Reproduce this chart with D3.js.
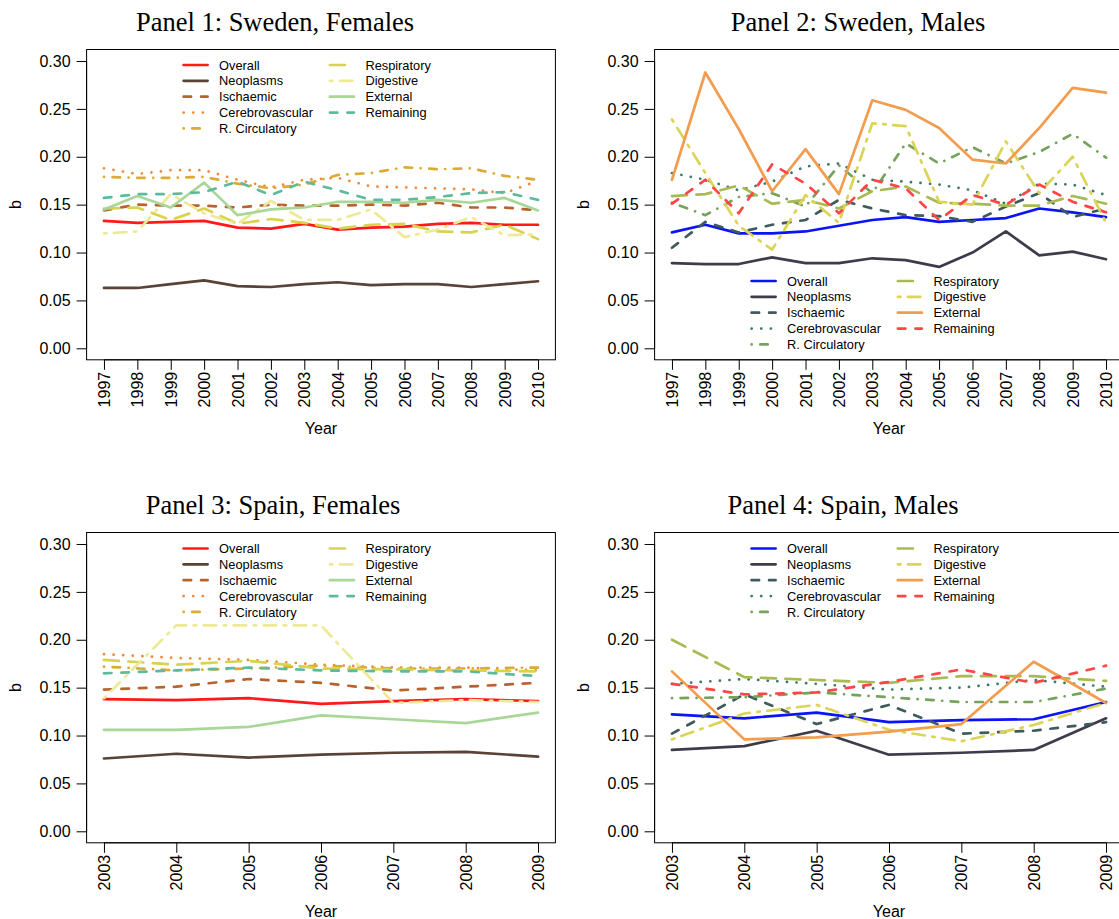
<!DOCTYPE html>
<html>
<head>
<meta charset="utf-8">
<script src="https://cdn.jsdelivr.net/npm/d3@7/dist/d3.min.js"></script>
<style>
  html, body { margin: 0; padding: 0; background: #fff; }
  svg { display: block; }
  text { font-family: "Liberation Sans", Arial, Helvetica, sans-serif; fill: #000; }
  .title { font-family: "Liberation Serif", "Times New Roman", serif; }
</style>
</head>
<body>
<svg id="chart" width="1119" height="919"></svg>
<script>
// Causes of death, in legend order
const causes = ["Overall", "Neoplasms", "Ischaemic", "Cerebrovascular", "R. Circulatory",
                "Respiratory", "Digestive", "External", "Remaining"];

const yearsSweden = [1997, 1998, 1999, 2000, 2001, 2002, 2003, 2004, 2005, 2006, 2007, 2008, 2009, 2010];
const yearsSpain = [2003, 2004, 2005, 2006, 2007, 2008, 2009];
const yTicks = [0, 0.05, 0.10, 0.15, 0.20, 0.25, 0.30];

// Sweden, females (one row per cause, same order as `causes`)
const swedenFemales = [
  [0.133, 0.131, 0.132, 0.133, 0.126, 0.125, 0.130, 0.124, 0.126, 0.127, 0.130, 0.131, 0.129, 0.129],
  [0.063, 0.063, 0.067, 0.071, 0.065, 0.064, 0.067, 0.069, 0.066, 0.067, 0.067, 0.064, 0.067, 0.070],
  [0.144, 0.150, 0.149, 0.149, 0.147, 0.150, 0.149, 0.149, 0.150, 0.149, 0.152, 0.147, 0.147, 0.144],
  [0.188, 0.182, 0.186, 0.186, 0.176, 0.168, 0.176, 0.178, 0.169, 0.168, 0.167, 0.166, 0.162, 0.175],
  [0.179, 0.178, 0.178, 0.179, 0.172, 0.167, 0.171, 0.181, 0.183, 0.189, 0.187, 0.188, 0.180, 0.176],
  [0.146, 0.147, 0.134, 0.146, 0.130, 0.135, 0.131, 0.125, 0.129, 0.130, 0.122, 0.121, 0.129, 0.114],
  [0.120, 0.122, 0.161, 0.141, 0.130, 0.154, 0.134, 0.134, 0.145, 0.116, 0.124, 0.137, 0.118, 0.119],
  [0.145, 0.159, 0.147, 0.173, 0.139, 0.145, 0.147, 0.153, 0.153, 0.152, 0.155, 0.152, 0.157, 0.144],
  [0.157, 0.161, 0.161, 0.163, 0.174, 0.160, 0.174, 0.165, 0.155, 0.155, 0.158, 0.162, 0.163, 0.155]
];

// Sweden, males
const swedenMales = [
  [0.121, 0.129, 0.120, 0.120, 0.122, 0.128, 0.134, 0.137, 0.132, 0.134, 0.136, 0.146, 0.142, 0.137],
  [0.089, 0.088, 0.088, 0.095, 0.089, 0.089, 0.094, 0.092, 0.085, 0.100, 0.122, 0.097, 0.101, 0.093],
  [0.105, 0.132, 0.121, 0.129, 0.134, 0.155, 0.146, 0.139, 0.138, 0.132, 0.148, 0.162, 0.137, 0.146],
  [0.183, 0.176, 0.165, 0.174, 0.190, 0.193, 0.176, 0.174, 0.171, 0.165, 0.151, 0.172, 0.171, 0.160],
  [0.152, 0.139, 0.158, 0.162, 0.148, 0.191, 0.162, 0.214, 0.193, 0.210, 0.193, 0.205, 0.224, 0.199],
  [0.159, 0.161, 0.170, 0.151, 0.155, 0.146, 0.164, 0.169, 0.152, 0.151, 0.149, 0.149, 0.159, 0.151],
  [0.239, 0.183, 0.128, 0.103, 0.160, 0.131, 0.235, 0.232, 0.153, 0.150, 0.216, 0.162, 0.200, 0.131],
  [0.176, 0.288, 0.229, 0.164, 0.208, 0.161, 0.259, 0.249, 0.230, 0.197, 0.193, 0.230, 0.272, 0.267],
  [0.151, 0.176, 0.141, 0.192, 0.172, 0.141, 0.176, 0.167, 0.134, 0.160, 0.150, 0.171, 0.153, 0.142]
];

// Spain, females
const spainFemales = [
  [0.138, 0.137, 0.139, 0.133, 0.136, 0.138, 0.136],
  [0.076, 0.081, 0.077, 0.080, 0.082, 0.083, 0.078],
  [0.148, 0.151, 0.159, 0.155, 0.147, 0.151, 0.155],
  [0.185, 0.181, 0.179, 0.174, 0.171, 0.171, 0.168],
  [0.172, 0.168, 0.170, 0.173, 0.170, 0.170, 0.171],
  [0.179, 0.174, 0.178, 0.170, 0.169, 0.168, 0.167],
  [0.139, 0.215, 0.215, 0.215, 0.134, 0.137, 0.135],
  [0.106, 0.106, 0.109, 0.121, 0.117, 0.113, 0.124],
  [0.165, 0.168, 0.171, 0.168, 0.167, 0.167, 0.162]
];

// Spain, males
const spainMales = [
  [0.122, 0.118, 0.124, 0.114, 0.116, 0.117, 0.135],
  [0.085, 0.089, 0.105, 0.080, 0.082, 0.085, 0.118],
  [0.102, 0.143, 0.112, 0.132, 0.102, 0.105, 0.114],
  [0.154, 0.159, 0.154, 0.148, 0.150, 0.158, 0.151],
  [0.139, 0.140, 0.145, 0.140, 0.135, 0.135, 0.149],
  [0.200, 0.161, 0.158, 0.155, 0.162, 0.162, 0.157],
  [0.096, 0.123, 0.132, 0.106, 0.094, 0.111, 0.134],
  [0.167, 0.096, 0.098, 0.104, 0.112, 0.177, 0.134],
  [0.154, 0.143, 0.145, 0.156, 0.169, 0.155, 0.173]
];

const femaleColors = ["#ff1a1a", "#5a4236", "#b8622e", "#f28a3c", "#dcab32",
                      "#d8d24c", "#eee996", "#a9d798", "#5fba9a"];
const maleColors = ["#0a14f5", "#403b4b", "#3f5b5c", "#3b7a6a", "#76a25c",
                    "#a8ba52", "#dcd456", "#f29c4e", "#ff4545"];

// R-style line types: solid, solid, dashed, dotted, dotdash, longdash, twodash, solid, dashed
const dashes = [null, null, "7.5,10", "0.1,9.5", "0.1,8.5,7.5,8.5", "15,9.5",
                "2.5,7.5,12.5,7.5", null, "7.5,10"];

const panels = [
  { title: "Panel 1: Sweden, Females", titleX: 275, col: 0, row: 0, years: yearsSweden,
    values: swedenFemales, colors: femaleColors, legendTop: 15.5 },
  { title: "Panel 2: Sweden, Males", titleX: 858, col: 1, row: 0, years: yearsSweden,
    values: swedenMales, colors: maleColors, legendTop: 231.5 },
  { title: "Panel 3: Spain, Females", titleX: 273, col: 0, row: 1, years: yearsSpain,
    values: spainFemales, colors: femaleColors, legendTop: 16 },
  { title: "Panel 4: Spain, Males", titleX: 843, col: 1, row: 1, years: yearsSpain,
    values: spainMales, colors: maleColors, legendTop: 16 }
];

const svg = d3.select("#chart");
const boxW = 468.8, boxH = 310.3;
const colOffset = 568, rowOffset = 483;
const axisFont = 16;

panels.forEach(p => {
  const left = 86.6 + p.col * colOffset;
  const top = 49.5 + p.row * rowOffset;
  const g = svg.append("g");

  const y0 = p.years[0], y1 = p.years[p.years.length - 1];
  const padX = (y1 - y0) * 0.04;
  const x = d3.scaleLinear().domain([y0 - padX, y1 + padX]).range([left, left + boxW]);
  const y = d3.scaleLinear().domain([-0.012, 0.312]).range([top + boxH, top]);

  // title
  g.append("text").attr("class", "title")
    .attr("x", p.titleX).attr("y", top - 19)
    .attr("text-anchor", "middle").attr("font-size", 26.5)
    .text(p.title);

  // axes
  const yAxis = d3.axisLeft(y).tickValues(yTicks).tickFormat(d3.format(".2f"))
    .tickSize(10).tickPadding(6);
  const ya = g.append("g").attr("transform", `translate(${left},0)`).call(yAxis);
  ya.select(".domain").remove();
  ya.append("line").attr("x1", 0).attr("x2", 0)
    .attr("y1", y(0)).attr("y2", y(0.30)).attr("stroke", "#000");
  ya.selectAll("text").attr("font-size", axisFont).style("font-family", "Liberation Sans, Arial, sans-serif");
  ya.selectAll("line").attr("stroke", "#000");

  const xAxis = d3.axisBottom(x).tickValues(p.years).tickFormat(d3.format("d"))
    .tickSize(10).tickPadding(0);
  const xa = g.append("g").attr("transform", `translate(0,${top + boxH})`).call(xAxis);
  xa.select(".domain").remove();
  xa.append("line").attr("x1", x(y0)).attr("x2", x(y1)).attr("y1", 0).attr("y2", 0).attr("stroke", "#000");
  xa.selectAll("line").attr("stroke", "#000");
  xa.selectAll("text")
    .attr("font-size", axisFont)
    .style("font-family", "Liberation Sans, Arial, sans-serif")
    .attr("transform", "rotate(-90)")
    .attr("text-anchor", "end")
    .attr("x", -12).attr("y", 0).attr("dy", "0.35em");

  // axis titles
  g.append("text").attr("x", left + boxW / 2).attr("y", top + boxH + 74)
    .attr("text-anchor", "middle").attr("font-size", axisFont).text("Year");
  g.append("text")
    .attr("transform", `translate(${left - 66},${top + boxH / 2}) rotate(-90)`)
    .attr("text-anchor", "middle").attr("font-size", axisFont).text("b");

  // plot box
  g.append("rect").attr("x", left).attr("y", top).attr("width", boxW).attr("height", boxH)
    .attr("fill", "none").attr("stroke", "#000").attr("stroke-width", 1);

  // series
  const line = d3.line().x((d, i) => x(p.years[i])).y(d => y(d));
  causes.forEach((c, k) => {
    g.append("path").datum(p.values[k])
      .attr("d", line)
      .attr("fill", "none")
      .attr("stroke", p.colors[k])
      .attr("stroke-width", 2.7)
      .attr("stroke-linecap", "round")
      .attr("stroke-linejoin", "round")
      .attr("stroke-dasharray", dashes[k]);
  });

  // legend: two columns, first five causes on the left
  const lg = g.append("g");
  causes.forEach((c, k) => {
    const colIdx = k < 5 ? 0 : 1;
    const rowIdx = k < 5 ? k : k - 5;
    const lx = left + 96 + colIdx * 146.3;
    const ly = top + p.legendTop + rowIdx * 15.85;
    lg.append("line")
      .attr("x1", lx + 1).attr("x2", lx + 25)
      .attr("y1", ly).attr("y2", ly)
      .attr("stroke", p.colors[k]).attr("stroke-width", 2.7)
      .attr("stroke-linecap", "round")
      .attr("stroke-dasharray", dashes[k]);
    lg.append("text").attr("x", lx + 36.5).attr("y", ly).attr("dy", "0.36em")
      .attr("font-size", 12.8).text(c);
  });
});
</script>
</body>
</html>
